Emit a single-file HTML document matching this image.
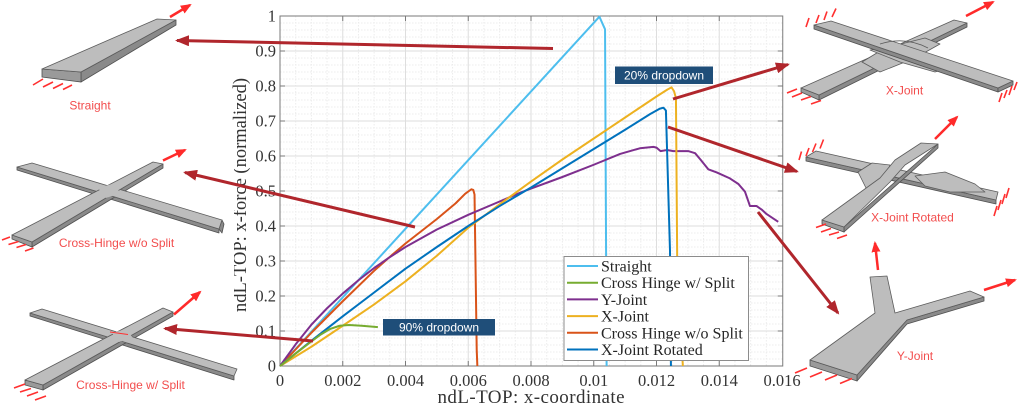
<!DOCTYPE html>
<html><head><meta charset="utf-8"><style>
html,body{margin:0;padding:0;background:#fff;}
svg{display:block;}
.tk{font-family:"Liberation Serif",serif;font-size:16.5px;fill:#333;}
.lg{font-family:"Liberation Serif",serif;font-size:16px;fill:#262626;}
.im{font-family:"Liberation Sans",sans-serif;font-size:12px;fill:#f24d4d;}
.bx{font-family:"Liberation Sans",sans-serif;font-size:12px;fill:#fff;}
.top{fill:#bdbdbd;stroke:#5c5c5c;stroke-width:0.8;stroke-linejoin:round;}
.sd{fill:#8a8a8a;stroke:#505050;stroke-width:0.8;stroke-linejoin:round;}
.fr{fill:#9a9a9a;stroke:#505050;stroke-width:0.8;}
.fx{stroke:#ff3030;stroke-width:1.6;fill:none;}
.cv{fill:none;stroke-width:2;vector-effect:non-scaling-stroke;stroke-linejoin:round;}
</style></head><body>
<svg width="1024" height="406" viewBox="0 0 1024 406" xmlns="http://www.w3.org/2000/svg">
<defs>
<marker id="ah" markerWidth="14" markerHeight="11" refX="12" refY="5.5" orient="auto" markerUnits="userSpaceOnUse"><path d="M0 0L14 5.5L0 11z" fill="#b0262c"/></marker>
<marker id="rh" markerWidth="11" markerHeight="9" refX="9" refY="4.5" orient="auto" markerUnits="userSpaceOnUse"><path d="M0 0L11 4.5L0 9z" fill="#ff2a2a"/></marker>
</defs>
<rect width="1024" height="406" fill="#fff"/>

<!-- plot background -->
<rect x="280" y="16" width="502.75" height="350" fill="#fff"/>
<!-- minor grid -->
<path stroke="#ececec" stroke-width="1" stroke-dasharray="1.5 1.5" fill="none" d="M295.69 16V366M311.38 16V366M327.06 16V366M358.44 16V366M374.13 16V366M389.81 16V366M421.19 16V366M436.88 16V366M452.56 16V366M483.94 16V366M499.63 16V366M515.31 16V366M546.69 16V366M562.38 16V366M578.06 16V366M609.44 16V366M625.13 16V366M640.81 16V366M672.19 16V366M687.88 16V366M703.56 16V366M734.94 16V366M750.63 16V366M766.31 16V366
M280 359H782.75M280 352H782.75M280 345H782.75M280 338H782.75M280 324H782.75M280 317H782.75M280 310H782.75M280 303H782.75M280 289H782.75M280 282H782.75M280 275H782.75M280 268H782.75M280 254H782.75M280 247H782.75M280 240H782.75M280 233H782.75M280 219H782.75M280 212H782.75M280 205H782.75M280 198H782.75M280 184H782.75M280 177H782.75M280 170H782.75M280 163H782.75M280 149H782.75M280 142H782.75M280 135H782.75M280 128H782.75M280 114H782.75M280 107H782.75M280 100H782.75M280 93H782.75M280 79H782.75M280 72H782.75M280 65H782.75M280 58H782.75M280 44H782.75M280 37H782.75M280 30H782.75M280 23H782.75"/>
<!-- major grid -->
<path stroke="#dedede" stroke-width="1" fill="none" d="M342.75 16V366M405.5 16V366M468.25 16V366M531 16V366M593.75 16V366M656.5 16V366M719.25 16V366
M280 331H782.75M280 296H782.75M280 261H782.75M280 226H782.75M280 191H782.75M280 156H782.75M280 121H782.75M280 86H782.75M280 51H782.75"/>
<!-- axes box -->
<rect x="280" y="16" width="502.75" height="350" fill="none" stroke="#7a7a7a" stroke-width="1"/>
<!-- ticks -->
<path stroke="#7a7a7a" stroke-width="1" fill="none" d="M342.75 366v-5M405.5 366v-5M468.25 366v-5M531 366v-5M593.75 366v-5M656.5 366v-5M719.25 366v-5
M342.75 16v5M405.5 16v5M468.25 16v5M531 16v5M593.75 16v5M656.5 16v5M719.25 16v5
M280 331h5M280 296h5M280 261h5M280 226h5M280 191h5M280 156h5M280 121h5M280 86h5M280 51h5
M782.75 331h-5M782.75 296h-5M782.75 261h-5M782.75 226h-5M782.75 191h-5M782.75 156h-5M782.75 121h-5M782.75 86h-5M782.75 51h-5"/>

<!-- x tick labels -->
<g class="tk" text-anchor="middle">
<text x="280" y="386">0</text>
<text x="342.75" y="386">0.002</text>
<text x="405.5" y="386">0.004</text>
<text x="468.25" y="386">0.006</text>
<text x="531" y="386">0.008</text>
<text x="593.75" y="386">0.01</text>
<text x="656.5" y="386">0.012</text>
<text x="719.25" y="386">0.014</text>
<text x="782" y="386">0.016</text>
</g>
<!-- y tick labels -->
<g class="tk" text-anchor="end">
<text x="276" y="371.5">0</text>
<text x="276" y="336.5">0.1</text>
<text x="276" y="301.5">0.2</text>
<text x="276" y="266.5">0.3</text>
<text x="276" y="231.5">0.4</text>
<text x="276" y="196.5">0.5</text>
<text x="276" y="161.5">0.6</text>
<text x="276" y="126.5">0.7</text>
<text x="276" y="91.5">0.8</text>
<text x="276" y="56.5">0.9</text>
<text x="276" y="21.5">1</text>
</g>
<!-- axis labels -->
<text x="531" y="403" text-anchor="middle" font-family="Liberation Serif, serif" font-size="19" fill="#333" textLength="187" lengthAdjust="spacing">ndL-TOP: x-coordinate</text>
<text transform="translate(246,195) rotate(-90)" text-anchor="middle" font-family="Liberation Serif, serif" font-size="18.5" fill="#333" textLength="234" lengthAdjust="spacing">ndL-TOP: x-force (normalized)</text>

<!-- curves -->
<g transform="translate(280,366) scale(31.375,-350)">
<polyline class="cv" stroke="#4DBEEE" points="0,0 10.18,0.998 10.36,0.962 10.41,0"/>
<polyline class="cv" stroke="#D95319" points="0,0 1,0.095 2,0.185 3,0.272 3.45,0.308 4,0.35 5,0.42 5.6,0.465 5.9,0.492 6.1,0.505 6.16,0.503 6.2,0.49 6.27,0.046 6.29,0"/>
<polyline class="cv" stroke="#7E2F8E" points="0,0 0.5,0.062 1,0.118 1.5,0.165 2,0.207 2.5,0.245 3,0.28 3.45,0.308 4,0.34 5,0.39 6,0.432 7,0.47 7.65,0.495 8,0.507 9,0.54 10,0.575 10.84,0.606 11.47,0.622 11.9,0.626 12,0.624 12.13,0.614 12.33,0.617 12.54,0.614 13.01,0.614 13.23,0.608 13.4,0.59 13.65,0.562 13.92,0.553 14.34,0.536 14.61,0.52 14.82,0.498 14.98,0.457 15.19,0.457 15.35,0.447 15.51,0.434 15.88,0.412"/>
<polyline class="cv" stroke="#EDB120" points="0,0 1,0.055 2,0.115 3,0.176 4,0.242 5,0.315 6,0.395 7,0.462 8,0.527 9,0.59 10,0.65 11,0.71 12,0.77 12.35,0.79 12.48,0.796 12.56,0.785 12.62,0.765 12.66,0.3 12.84,0"/>
<polyline class="cv" stroke="#0072BD" points="0,0 1,0.072 2,0.142 3,0.21 4,0.278 5,0.34 6,0.4 7,0.457 8,0.51 9,0.565 10,0.62 11,0.675 11.8,0.72 12.1,0.735 12.22,0.738 12.3,0.73 12.43,0.33 12.46,0"/>
<polyline class="cv" stroke="#77AC30" points="0,0 0.5,0.036 1,0.07 1.3,0.09 1.6,0.106 1.9,0.115 2.2,0.117 2.6,0.115 3.12,0.111"/>
</g>

<!-- legend -->
<rect x="564" y="256.5" width="184.5" height="104" fill="#fff" stroke="#8c8c8c" stroke-width="1"/>
<g stroke-width="2">
<line x1="567" y1="266" x2="598" y2="266" stroke="#4DBEEE"/>
<line x1="567" y1="282.7" x2="598" y2="282.7" stroke="#77AC30"/>
<line x1="567" y1="299.4" x2="598" y2="299.4" stroke="#7E2F8E"/>
<line x1="567" y1="316.1" x2="598" y2="316.1" stroke="#EDB120"/>
<line x1="567" y1="332.8" x2="598" y2="332.8" stroke="#D95319"/>
<line x1="567" y1="349.5" x2="598" y2="349.5" stroke="#0072BD"/>
</g>
<g class="lg">
<text x="601" y="271.5">Straight</text>
<text x="601" y="288.2">Cross Hinge w/ Split</text>
<text x="601" y="304.9">Y-Joint</text>
<text x="601" y="321.6">X-Joint</text>
<text x="601" y="338.3">Cross Hinge w/o Split</text>
<text x="601" y="355">X-Joint Rotated</text>
</g>

<!-- dropdown boxes -->
<rect x="615" y="66.5" width="98" height="17.5" fill="#1f4e79"/>
<text class="bx" x="664" y="79.5" text-anchor="middle">20% dropdown</text>
<rect x="383" y="319" width="112" height="16.5" fill="#1f4e79"/>
<text class="bx" x="439" y="331.5" text-anchor="middle">90% dropdown</text>

<!-- left white cover over y-label -->
<rect x="0" y="160" width="234" height="175" fill="#fff"/>

<!-- ===== LEFT IMAGES ===== -->
<!-- Straight -->
<polygon class="sd" points="81,72 176,20 176,25 81,82"/>
<polygon class="fr" points="42,69 81,72 81,82 42,77" fill="#8f8f8f"/>
<polygon class="top" points="42,69 81,72 176,20 157,19"/>
<line x1="170" y1="17" x2="190" y2="5" stroke="#ff2a2a" stroke-width="2.5" marker-end="url(#rh)"/>
<g class="fx"><path d="M33 85L43 79M43 87L53 82M53 88.5L63 83.5M63 89.5L72 85"/></g>
<text class="im" x="90" y="109.5" text-anchor="middle">Straight</text>

<!-- Cross-Hinge w/o Split -->
<polygon class="sd" points="17,167 219,229 219,233 17,170"/>
<polygon class="sd" points="219,229 222,220 224,224 222,233"/>
<polygon class="sd" points="32,242 163,164 163,168 32,247"/>
<polygon class="fr" points="12,235 32,242 32,247 12,239"/>
<polygon class="top" points="17,167 32,163 222,220 219,229"/>
<polygon class="top" points="12,235 32,242 163,164 153,162"/>
<polygon points="98,188 112,184 121,193 106,198" fill="#bdbdbd"/>
<line x1="163" y1="160.5" x2="185" y2="150" stroke="#ff2a2a" stroke-width="2.5" marker-end="url(#rh)"/>
<g class="fx"><path d="M2 240L10 237M8.5 244.5L18.5 241.5M16.5 247.5L26 244.5M25 251L33.5 248"/></g>
<text class="im" x="116.5" y="247" text-anchor="middle">Cross-Hinge w/o Split</text>

<!-- Cross-Hinge w/ Split -->
<polygon class="sd" points="30,313 234,376 234,380 30,316"/>
<polygon class="sd" points="43,385 173,312 173,316 43,390"/>
<polygon class="fr" points="25,380 43,385 43,390 25,385"/>
<polygon class="top" points="30,313 42,309 237,369 234,376"/>
<polygon class="top" points="25,380 43,385 173,312 163,308"/>
<polygon points="112,333 126,329 133,338 119,342" fill="#bdbdbd"/>
<line x1="110" y1="332" x2="128" y2="334.5" stroke="#ff3030" stroke-width="1"/>
<line x1="174" y1="314.5" x2="200" y2="292" stroke="#ff2a2a" stroke-width="2.5" marker-end="url(#rh)"/>
<g class="fx"><path d="M14 388L25 384M20 392L31 388.5M27 396L38 392M35 400L46 396"/></g>
<text class="im" x="130.5" y="389" text-anchor="middle">Cross-Hinge w/ Split</text>

<!-- ===== RIGHT IMAGES ===== -->
<!-- X-Joint -->
<polygon class="sd" points="819,95 967,23 967,27 819,100"/>
<polygon class="fr" points="801,88 819,95 819,100 801,92"/>
<polygon class="top" points="801,88 819,95 967,23 954,20"/>
<polygon class="top" points="862,62 885,48 925,38 940,44 915,58 880,72"/>
<polygon class="top" points="870,50 900,62 935,72 948,68 925,56 895,46"/>
<polygon class="sd" points="814,25 998,88 998,92 814,29"/>
<polygon class="sd" points="998,88 1013,81 1013,85 998,92"/>
<polygon class="top" points="814,25 831,21 1013,81 998,88"/>
<path d="M880 44Q905 36 928 48" stroke="#5c5c5c" stroke-width="0.8" fill="none"/>
<line x1="966" y1="16" x2="993" y2="2" stroke="#ff2a2a" stroke-width="2.5" marker-end="url(#rh)"/>
<g class="fx"><path d="M806 27L809 18M816 23L819 15M824 20L827 11.5M832 17L836 8.5M787 93L797 89M792 97L802 93M801 100L811 96.5M811 104L821 100.5M999 102L1002 93M1004 98L1007 90M1009 95L1012 86M1014 90L1017 82"/></g>
<text class="im" x="904.5" y="94.5" text-anchor="middle">X-Joint</text>

<!-- X-Joint Rotated -->
<polygon class="sd" points="806,157 996,200 996,204 806,161"/>
<polygon class="top" points="806,157 816,151 998,192 996,200"/>
<polygon class="top" points="858,172 872,163 890,165 884,182 866,188"/>
<polygon class="top" points="915,176 945,172 975,184 985,192 950,192 925,186"/>
<polygon class="sd" points="844,227 938,144 938,148 844,232"/>
<polygon class="fr" points="822,220 844,227 844,232 822,224"/>
<polygon class="top" points="822,220 844,227 890,182 905,165 938,144 921,143 895,160 880,178"/>
<line x1="935" y1="139" x2="957" y2="117" stroke="#ff2a2a" stroke-width="2.5" marker-end="url(#rh)"/>
<g class="fx"><path d="M799 160L801.5 151.5M806 156L809 148M812.5 152L816 143.5M820 148.5L823.5 139.5M994 216L997 206M998 210L1001 200M1002 204L1005 194M1006 198L1009 188M816 227.5L826 224M821 232L831 228.5M829 235L839 232M837 238.5L847 235"/></g>
<text class="im" x="912.5" y="221.5" text-anchor="middle">X-Joint Rotated</text>

<!-- Y-Joint -->
<polygon class="sd" points="857,375 907,320 984,297 984,301 907,324 857,381"/>
<polygon class="fr" points="810,360 857,375 857,381 810,366" fill="#6f6f6f"/>
<polygon class="top" points="810,360 875,313 870,277 887,276 895,313 970,291 984,297 907,320 857,375"/>
<line x1="878" y1="270" x2="875" y2="243" stroke="#ff2a2a" stroke-width="2.5" marker-end="url(#rh)"/>
<line x1="984" y1="290" x2="1015" y2="280" stroke="#ff2a2a" stroke-width="2.5" marker-end="url(#rh)"/>
<g class="fx"><path d="M795 373L807 368M810 377L822 372M825 380L837 375M840 383.5L852 378.5"/></g>
<text class="im" x="915" y="360" text-anchor="middle">Y-Joint</text>

<!-- dark red pointer arrows -->
<g stroke="#b0262c" stroke-width="3" fill="none">
<line x1="553" y1="48.5" x2="177" y2="40.5" marker-end="url(#ah)"/>
<line x1="415" y1="227" x2="185" y2="172.5" marker-end="url(#ah)"/>
<line x1="313" y1="341" x2="165" y2="328.5" marker-end="url(#ah)"/>
<line x1="673" y1="99" x2="788" y2="64.5" marker-end="url(#ah)"/>
<line x1="668" y1="127" x2="797" y2="171.5" marker-end="url(#ah)"/>
<line x1="758" y1="212" x2="838" y2="313" marker-end="url(#ah)"/>
</g>
</svg>
</body></html>
